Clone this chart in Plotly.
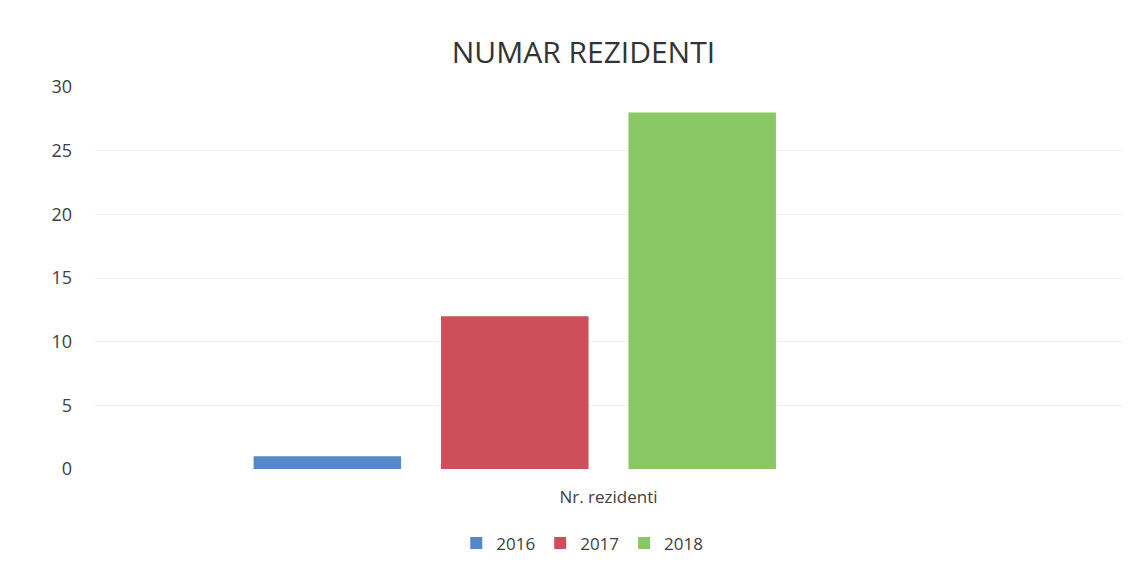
import plotly.graph_objects as go

categories = ["Nr. rezidenti"]
years = ["2016", "2017", "2018"]
values = [[1], [12], [28]]
colors = ["#5688C7", "#CC4F5A", "#8AC765"]
y_ticks = [0, 5, 10, 15, 20, 25, 30]

FONT = "Open Sans, Liberation Sans, sans-serif"

fig = go.Figure()
for name, vals, col in zip(years, values, colors):
    fig.add_trace(go.Bar(x=categories, y=vals, name=name, marker=dict(color=col, line=dict(width=0))))
# empty placeholder series (present in source chart, no data)
fig.add_trace(go.Bar(x=categories, y=[None], name="", showlegend=False, hoverinfo="skip"))

fig.update_layout(
    width=1144, height=566,
    paper_bgcolor="white", plot_bgcolor="white",
    margin=dict(l=87, r=30, t=79, b=105, autoexpand=False),
    barmode="group", bargap=0.27, bargroupgap=0.213,
    title=dict(text="NUMAR REZIDENTI", x=0.503, xanchor="center", y=0.922, yanchor="middle",
               font=dict(family=FONT, size=30, color="#333333")),
    font=dict(family=FONT, color="#404040"),
    showlegend=True,
    legend=dict(orientation="h", xref="container", x=0.502, xanchor="center",
                yref="container", y=0.054, yanchor="middle",
                font=dict(family=FONT, size=17, color="#404040"), traceorder="normal",
                itemwidth=30),
    xaxis=dict(showgrid=False, showline=False, ticks="", automargin=False, ticklabelstandoff=16,
               tickfont=dict(family=FONT, size=17, color="#404040")),
    yaxis=dict(range=[0, 30], tickvals=y_ticks, showgrid=True, gridcolor="#EEEEEE", gridwidth=1,
               zeroline=False, showline=False, ticks="", ticklabelstandoff=22, automargin=False,
               tickfont=dict(family=FONT, size=18, color="#404040")),
)

fig.write_html("out.html")
